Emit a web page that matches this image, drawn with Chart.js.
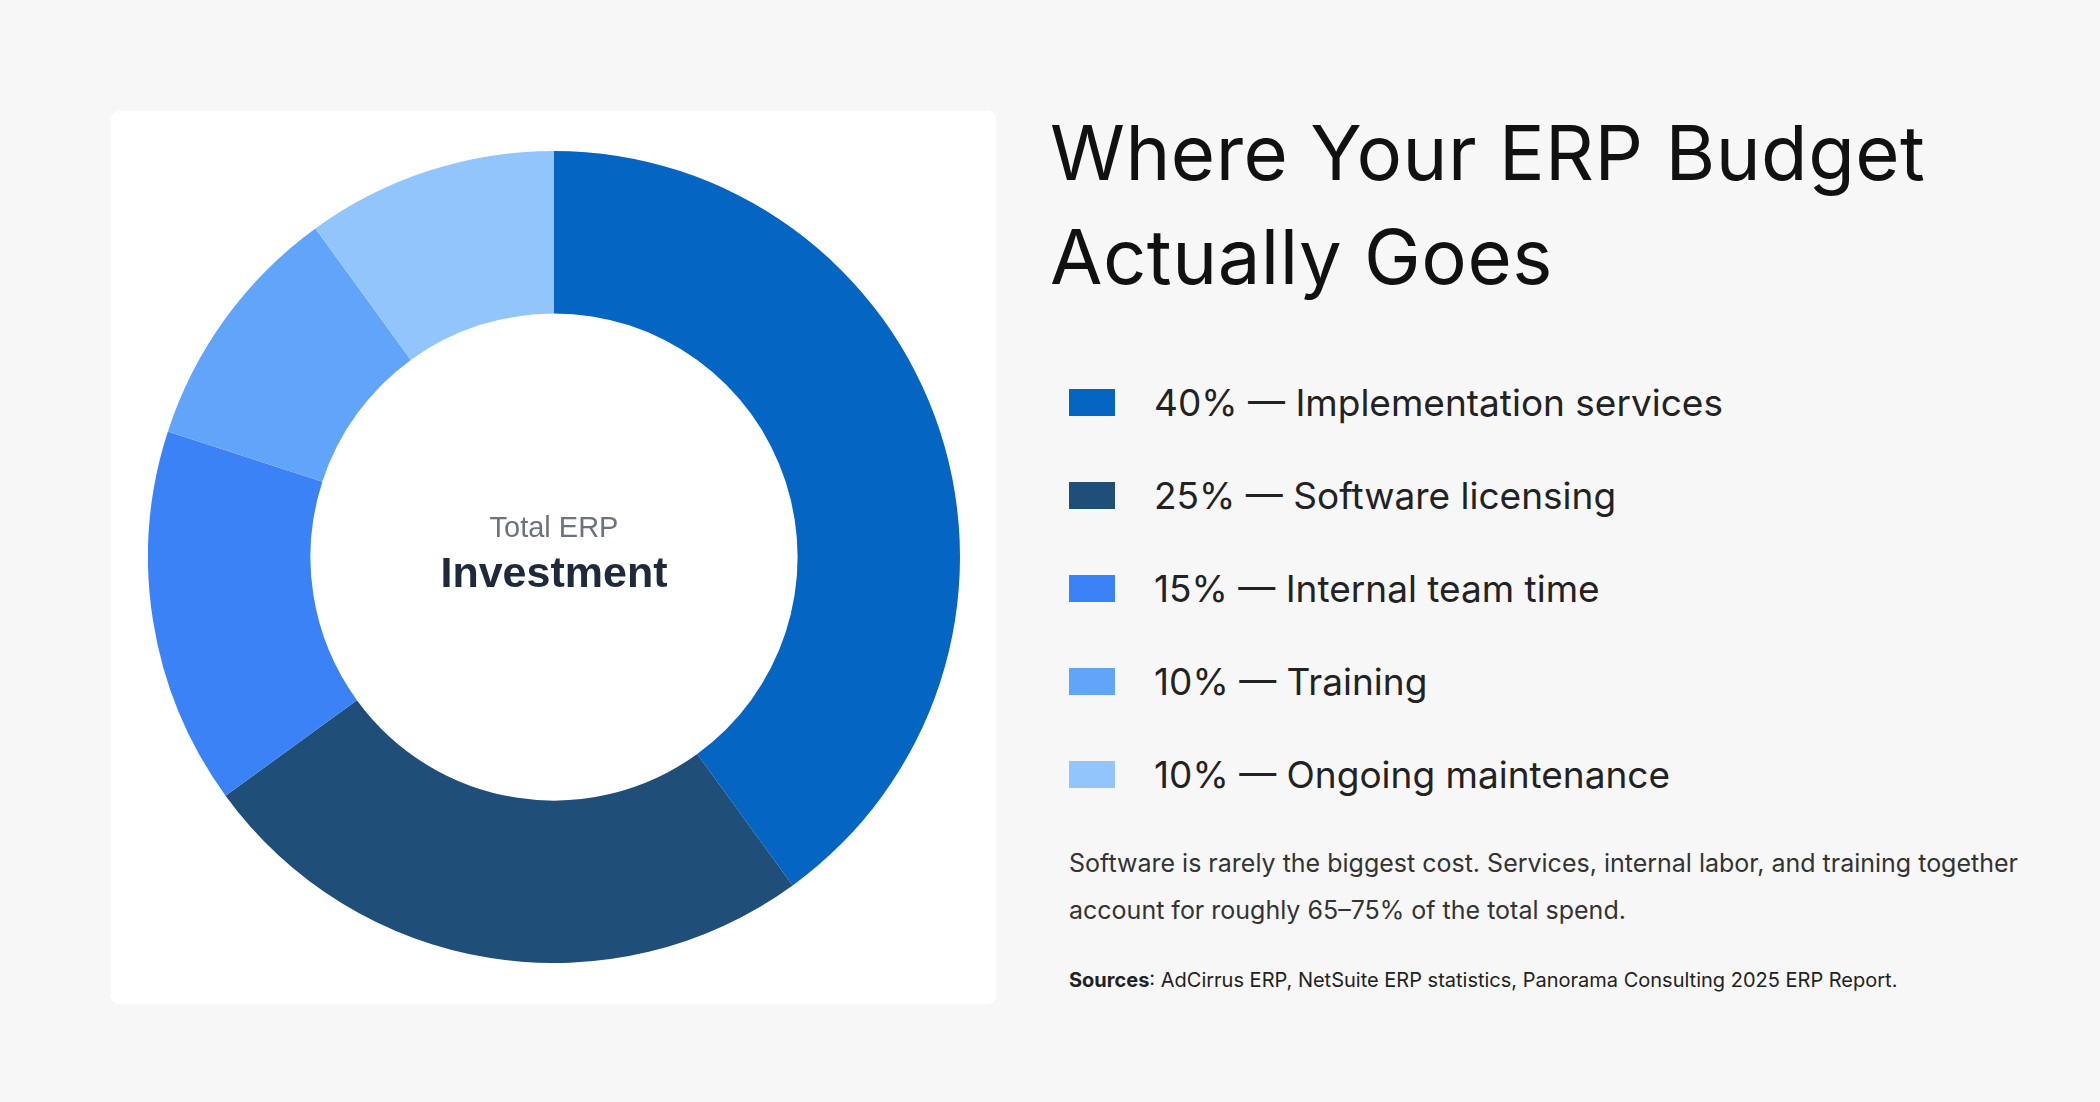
<!DOCTYPE html>
<html>
<head>
<meta charset="utf-8">
<script src="https://cdn.jsdelivr.net/npm/chart.js@4"></script>
<style>
  body { margin: 0; width: 2100px; height: 1102px; background: #f7f7f7; font-family: "Inter", "Noto Sans", sans-serif; position: relative; overflow: hidden; }
  .card { position: absolute; left: 111px; top: 111px; width: 885px; height: 893px; background: #fff; border-radius: 8px; }
  .donut { position: absolute; left: 148px; top: 151px; width: 812px; height: 812px; }
  .center { position: absolute; left: 148px; top: 151px; width: 812px; height: 812px; display: flex; flex-direction: column; align-items: center; justify-content: center; font-family: "Liberation Sans", Arial, sans-serif; pointer-events: none; }
  .center .a { font-size: 29px; color: #6b7280; margin-top: -6px; }
  .center .b { font-size: 43px; font-weight: bold; color: #1e293b; margin-top: 4px; }
  h1 { position: absolute; left: 1050px; top: 100px; margin: 0; font-weight: 400; font-size: 76px; line-height: 104px; color: #111; letter-spacing: 0.5px; }
  .legend { position: absolute; left: 1069px; top: 356px; }
  .row { display: flex; align-items: center; height: 93px; font-size: 37px; color: #222; }
  .sw { width: 46px; height: 27px; margin-right: 39px; }
  .note { position: absolute; left: 1069px; top: 840px; width: 1000px; font-size: 25px; line-height: 47px; color: #333; }
  .src { position: absolute; left: 1069px; top: 968px; font-size: 20px; color: #222; }
</style>
</head>
<body>
<div class="card"></div>
<div class="donut"><canvas id="grafico"></canvas></div>
<div class="center"><div class="a">Total ERP</div><div class="b">Investment</div></div>
<h1>Where Your ERP Budget<br>Actually Goes</h1>
<div class="legend" id="leyenda"></div>
<div class="note">Software is rarely the biggest cost. Services, internal labor, and training together account for roughly 65–75% of the total spend.</div>
<div class="src"><b>Sources</b>: AdCirrus ERP, NetSuite ERP statistics, Panorama Consulting 2025 ERP Report.</div>
<script>
// Datos de la gráfica
const categorias = ["Implementation services", "Software licensing", "Internal team time", "Training", "Ongoing maintenance"];
const porcentajes = [40, 25, 15, 10, 10];
const colores = ["#0565c3", "#1f4e79", "#3b82f6", "#60a5fa", "#93c5fd"];

// Leyenda en HTML
const leyenda = document.getElementById("leyenda");
categorias.forEach((c, i) => {
    const row = document.createElement("div");
    row.className = "row";
    row.innerHTML = `<div class="sw" style="background:${colores[i]}"></div>${porcentajes[i]}% — ${c}`;
    leyenda.appendChild(row);
});

new Chart(document.getElementById("grafico"), {
    type: 'doughnut',
    data: {
        labels: categorias,
        datasets: [{ data: porcentajes, backgroundColor: colores, borderWidth: 0 }]
    },
    options: {
        responsive: true,
        maintainAspectRatio: false,
        animation: false,
        cutout: '60%',
        plugins: { legend: { display: false }, tooltip: { enabled: false } }
    }
});
</script>
</body>
</html>
